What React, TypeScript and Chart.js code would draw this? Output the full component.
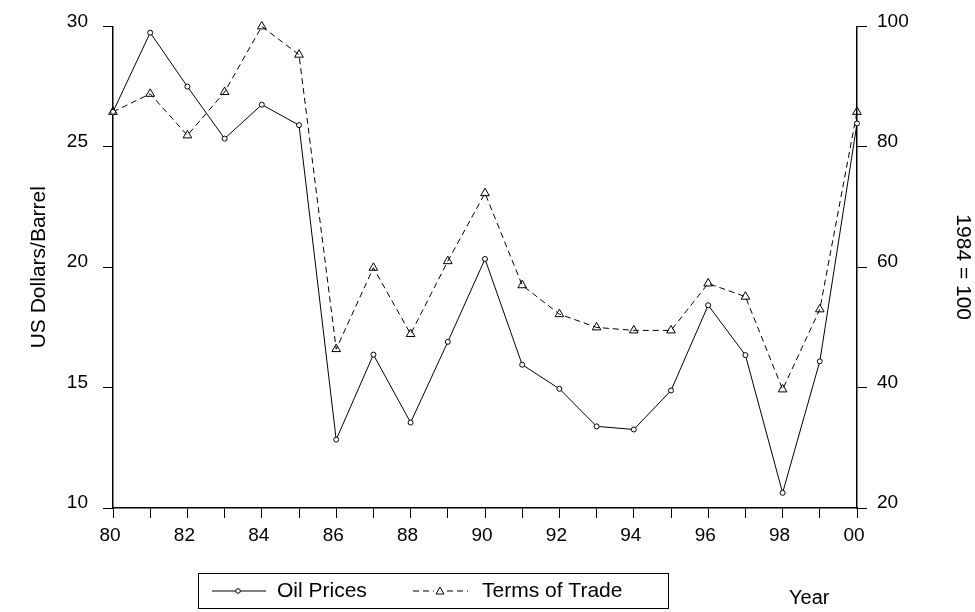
import React, { useEffect, useRef } from 'react';
import { Chart, registerables } from 'chart.js';

Chart.register(...registerables);

const years = ['80', '81', '82', '83', '84', '85', '86', '87', '88', '89', '90', '91', '92', '93', '94', '95', '96', '97', '98', '99', '00'];
const oilPrices = [26.45, 29.74, 27.5, 25.34, 26.75, 25.9, 12.84, 16.37, 13.55, 16.9, 20.34, 15.95, 14.95, 13.39, 13.26, 14.88, 18.42, 16.35, 10.63, 16.09, 25.97];
const termsOfTrade = [85.8, 88.8, 81.9, 89.1, 100, 95.3, 46.4, 59.9, 48.9, 61.0, 72.3, 57.0, 52.2, 50.0, 49.5, 49.5, 57.3, 55.1, 39.7, 53.0, 85.8];
const leftRange = { min: 10, max: 30, step: 5 };
const rightRange = { min: 20, max: 100, step: 20 };
const leftTitle = 'US Dollars/Barrel';
const rightTitle = '1984 = 100';
const xTitle = 'Year';

const FONT = '"Liberation Sans", Arial, sans-serif';

const legendPlugin = {
  id: 'boxLegend',
  afterDraw(chart: any) {
    const ctx = chart.ctx;
    const ds = chart.data.datasets;
    ctx.save();
    ctx.strokeStyle = '#000';
    ctx.lineWidth = 1;
    ctx.strokeRect(198.5, 573.5, 470, 35);
    const cy = 591;
    ctx.font = `21px ${FONT}`;
    ctx.fillStyle = '#000';
    ctx.textBaseline = 'middle';
    ctx.textAlign = 'left';
    // oil sample
    ctx.beginPath();
    ctx.moveTo(212, cy);
    ctx.lineTo(266, cy);
    ctx.setLineDash([]);
    ctx.stroke();
    ctx.beginPath();
    ctx.arc(238, cy, 2.3, 0, Math.PI * 2);
    ctx.fillStyle = '#fff';
    ctx.fill();
    ctx.stroke();
    ctx.fillStyle = '#000';
    ctx.fillText(ds[0].label, 277, cy);
    // tot sample
    ctx.beginPath();
    ctx.setLineDash([6, 4]);
    ctx.moveTo(413, cy);
    ctx.lineTo(434, cy);
    ctx.moveTo(447, cy);
    ctx.lineTo(468, cy);
    ctx.stroke();
    ctx.setLineDash([]);
    ctx.beginPath();
    ctx.moveTo(440, cy - 4);
    ctx.lineTo(444, cy + 3);
    ctx.lineTo(436, cy + 3);
    ctx.closePath();
    ctx.stroke();
    ctx.fillText(ds[1].label, 482, cy);
    // Year
    ctx.font = `20px ${FONT}`;
    ctx.fillText(xTitle, 789, 598);
    ctx.restore();
  },
};

export default function App() {
  const ref = useRef<HTMLCanvasElement>(null);
  useEffect(() => {
    if (!ref.current) return;
    const tickFont = { family: FONT, size: 19 };
    const chart = new Chart(ref.current, {
      type: 'line',
      data: {
        labels: years,
        datasets: [
          {
            label: 'Oil Prices',
            data: oilPrices,
            yAxisID: 'y',
            borderColor: '#000',
            borderWidth: 1,
            pointStyle: 'circle',
            pointRadius: 2.5,
            pointBackgroundColor: '#fff',
            pointBorderColor: '#000',
            pointBorderWidth: 1,
            tension: 0,
            fill: false,
            clip: false,
          },
          {
            label: 'Terms of Trade',
            data: termsOfTrade,
            yAxisID: 'y1',
            borderColor: '#000',
            borderWidth: 1,
            borderDash: [6, 4],
            pointStyle: 'triangle',
            pointRadius: 5,
            pointBackgroundColor: 'rgba(255,255,255,0)',
            pointBorderColor: '#000',
            pointBorderWidth: 1,
            tension: 0,
            fill: false,
            clip: false,
          },
        ],
      },
      options: {
        responsive: false,
        animation: false,
        devicePixelRatio: 1,
        layout: { padding: { top: 22, left: 0, right: 0, bottom: 0 } },
        plugins: { legend: { display: false }, tooltip: { enabled: false } },
        scales: {
          x: {
            type: 'category',
            offset: false,
            grid: { drawOnChartArea: false, tickLength: 10, color: '#000', tickColor: '#000', lineWidth: 1 },
            border: { color: '#000', width: 1.5 },
            ticks: {
              autoSkip: false,
              maxRotation: 0,
              padding: 6,
              labelOffset: -3,
              color: '#000',
              font: tickFont,
              callback: (_v: any, i: number) => (i % 2 === 0 ? years[i] : ''),
            },
            afterFit: (s: any) => { s.height = 104; },
          },
          y: {
            type: 'linear',
            position: 'left',
            min: leftRange.min,
            max: leftRange.max,
            grid: { drawOnChartArea: false, tickLength: 10, color: '#000', tickColor: '#000', lineWidth: 1 },
            border: { color: '#000', width: 1.5 },
            ticks: { stepSize: leftRange.step, padding: 15, labelOffset: -5, color: '#000', font: tickFont },
            title: { display: true, text: leftTitle, color: '#000', font: { family: FONT, size: 21 }, padding: { top: 27, bottom: 0 } },
            afterFit: (s: any) => { s.width = 113; },
          },
          y1: {
            type: 'linear',
            position: 'right',
            min: rightRange.min,
            max: rightRange.max,
            grid: { drawOnChartArea: false, tickLength: 10, color: '#000', tickColor: '#000', lineWidth: 1 },
            border: { color: '#000', width: 1.5 },
            ticks: { stepSize: rightRange.step, padding: 10, labelOffset: -5, color: '#000', font: tickFont },
            title: { display: true, text: rightTitle, color: '#000', font: { family: FONT, size: 21 }, padding: { top: 0, bottom: 0 } },
            afterFit: (s: any) => { s.width = 118; },
          },
        },
      },
      plugins: [legendPlugin],
    } as any);
    return () => chart.destroy();
  }, []);
  return (
    <div style={{ position: 'absolute', left: 0, top: 0, width: 975, height: 612, background: '#fff' }}>
      <canvas ref={ref} width={975} height={612} style={{ width: 975, height: 612 }} />
    </div>
  );
}
